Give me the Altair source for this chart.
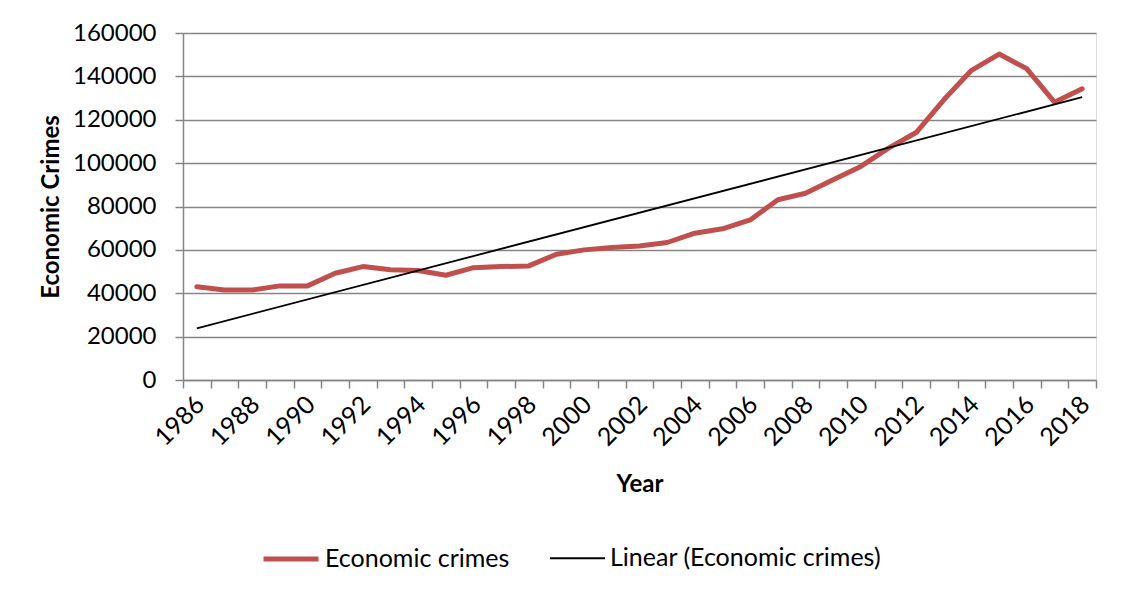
import altair as alt
import pandas as pd

years = list(range(1986, 2019))
crimes = [43000, 41500, 41500, 43400, 43400, 49200, 52300, 50800, 50500, 48300,
          51800, 52300, 52600, 58000, 60000, 61100, 61800, 63400, 67700, 69700,
          73800, 83100, 86100, 92300, 98500, 106900, 114100, 129200, 142800,
          150300, 143500, 128100, 134300]
label_years = list(range(1986, 2019, 2))
boundaries = [y - 0.5 for y in range(1986, 2020)]
y_ticks = list(range(0, 160001, 20000))
series_names = ["Economic crimes", "Linear (Economic crimes)"]
series_colors = ["#C0504D", "#000000"]
series_widths = [5, 1.8]

df = pd.DataFrame({"year": years, "value": crimes, "series": series_names[0]})

FONT = "Lato"
GRAY = "#868686"

xscale = alt.Scale(domain=[1985.5, 2018.5], nice=False, zero=False)
yaxis = alt.Axis(values=y_ticks, format="d", grid=True, gridColor=GRAY, gridWidth=1.3,
                 domainColor=GRAY, domainWidth=1.5, tickColor=GRAY, tickWidth=1.5,
                 tickSize=8, labelFont=FONT, labelFontSize=24, labelColor="#000000",
                 labelPadding=19, title="Economic Crimes", titleFont=FONT,
                 titleFontSize=24, titleFontWeight="bold", titleColor="#000000",
                 titlePadding=9)
yenc = alt.Y("value:Q", scale=alt.Scale(domain=[0, 160000], nice=False), axis=yaxis)

legend = alt.Legend(orient="none", legendX=78, legendY=496,
                    direction="horizontal", title=None,
                    symbolType="stroke", symbolSize=3025,
                    labelFont=FONT, labelFontSize=25,
                    labelColor="#000000", labelLimit=500,
                    labelOffset=4, columnPadding=36)
color = alt.Color("series:N",
                  scale=alt.Scale(domain=series_names, range=series_colors),
                  legend=legend)
swidth = alt.StrokeWidth("series:N",
                         scale=alt.Scale(domain=series_names, range=series_widths),
                         legend=legend)

label_axis = alt.Axis(values=label_years, orient="bottom", ticks=False, domain=False,
                      grid=False, format="d", labelAngle=-45, labelAlign="right",
                      labelBaseline="middle", labelPadding=20, labelOffset=3,
                      labelFont=FONT, labelFontSize=25, labelColor="#000000",
                      labelOverlap=False, title="Year", titleFont=FONT,
                      titleFontSize=24, titleFontWeight="bold", titleColor="#000000",
                      titlePadding=22)
tick_axis = alt.Axis(values=boundaries, orient="bottom", ticks=True, tickSize=8,
                     tickColor=GRAY, tickWidth=1.5, domain=True, domainColor=GRAY,
                     domainWidth=1.5, labels=False, grid=False, title=None)

crime_line = alt.Chart(df).mark_line(strokeCap="round", strokeJoin="round").encode(
    x=alt.X("year:Q", scale=xscale, axis=label_axis),
    y=yenc,
    color=color,
    strokeWidth=swidth,
)

trend = alt.Chart(df).transform_regression(
    "year", "value", method="linear"
).transform_calculate(
    series="'Linear (Economic crimes)'"
).mark_line().encode(
    x=alt.X("year:Q", scale=xscale, axis=tick_axis),
    y=yenc,
    color=color,
    strokeWidth=swidth,
)

chart = alt.layer(crime_line, trend).resolve_axis(x="independent").properties(
    width=913, height=347,
    autosize=alt.AutoSizeParams(type="none"),
    padding={"left": 175, "top": 25, "right": 20, "bottom": 205},
).configure_view(stroke=None).configure(font=FONT)

chart.save("out.html", embed_options={"renderer": "svg", "actions": False})
